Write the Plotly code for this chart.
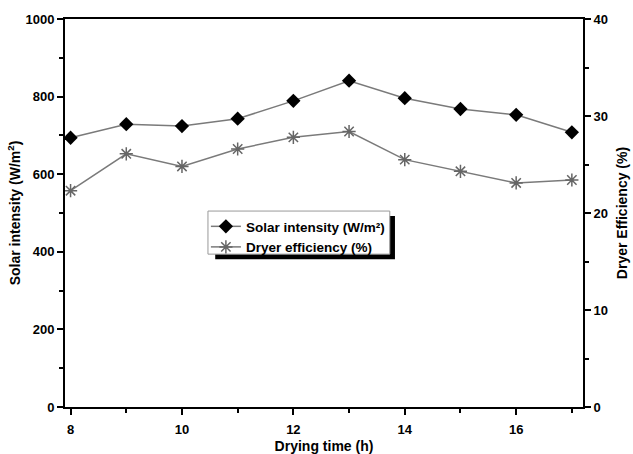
import plotly.graph_objects as go

hours = [8, 9, 10, 11, 12, 13, 14, 15, 16, 17]
solar_intensity = [694, 729, 724, 743, 789, 841, 796, 768, 753, 708]
dryer_efficiency = [22.3, 26.1, 24.8, 26.6, 27.8, 28.4, 25.5, 24.3, 23.1, 23.4]

FAM = "Liberation Sans, Arial, sans-serif"

fig = go.Figure()
fig.add_trace(go.Scatter(
    x=hours, y=solar_intensity, name="<b>Solar intensity (W/m²)</b>",
    mode="lines+markers", line=dict(color="#7a7a7a", width=1.5),
    marker=dict(symbol="diamond", size=11, color="black"), yaxis="y"))
fig.add_trace(go.Scatter(
    x=hours, y=dryer_efficiency, name="<b>Dryer efficiency (%)</b>",
    mode="lines+markers", line=dict(color="#7a7a7a", width=1.5),
    marker=dict(symbol="asterisk-open", size=11, color="#666666",
                line=dict(width=1.5, color="#666666")),
    yaxis="y2"))

axis_common = dict(showline=True, linecolor="black", linewidth=2, ticks="outside",
                   ticklen=6, tickwidth=2, tickcolor="black", showgrid=False, zeroline=False,
                   automargin=False,
                   tickfont=dict(family=FAM, size=13, color="black"))
minor_common = dict(ticks="outside", ticklen=4, tickwidth=2, tickcolor="black", showgrid=False)
title_font = dict(family=FAM, size=14, color="black")

fig.update_layout(
    width=633, height=454,
    margin=dict(l=65, r=50, t=19, b=47),
    paper_bgcolor="white", plot_bgcolor="white",
    showlegend=True,
    legend=dict(x=0.272, y=0.505, xanchor="left", yanchor="top",
                bgcolor="rgba(0,0,0,0)", borderwidth=0,
                font=dict(family=FAM, size=13.5, color="black"),
                tracegroupgap=0, itemwidth=30),
    xaxis=dict(range=[7.9, 17.2], dtick=2, tickprefix="<b>", ticksuffix="</b>",
               minor=dict(dtick=1, **minor_common),
               mirror=True, ticklabelstandoff=3,
               title=dict(text="<b>Drying time (h)</b>", standoff=6, font=title_font),
               **axis_common),
    yaxis=dict(range=[0, 1000], dtick=200, tickprefix="<b>", ticksuffix="</b>",
               minor=dict(dtick=100, **minor_common),
               title=dict(text="<b>Solar intensity (W/m<sup>2</sup>)</b>", standoff=2, font=title_font),
               **axis_common),
    yaxis2=dict(range=[0, 40], dtick=10, overlaying="y", side="right",
                tickprefix="<b>", ticksuffix="</b>",
                minor=dict(dtick=5, **minor_common),
                title=dict(text="<b>Dryer Efficiency (%)</b>", standoff=10, font=title_font),
                **axis_common),
    shapes=[
        dict(type="rect", xref="paper", yref="paper", layer="above",
             x0=0.29, x1=0.637, y0=0.381, y1=0.492,
             fillcolor="black", line=dict(width=0)),
        dict(type="rect", xref="paper", yref="paper", layer="above",
             x0=0.276, x1=0.627, y0=0.394, y1=0.505,
             fillcolor="white", line=dict(width=1, color="#999999")),
    ],
)

fig.write_html("out.html", config={"displayModeBar": False},
               post_script="document.body.style.margin='0';")
